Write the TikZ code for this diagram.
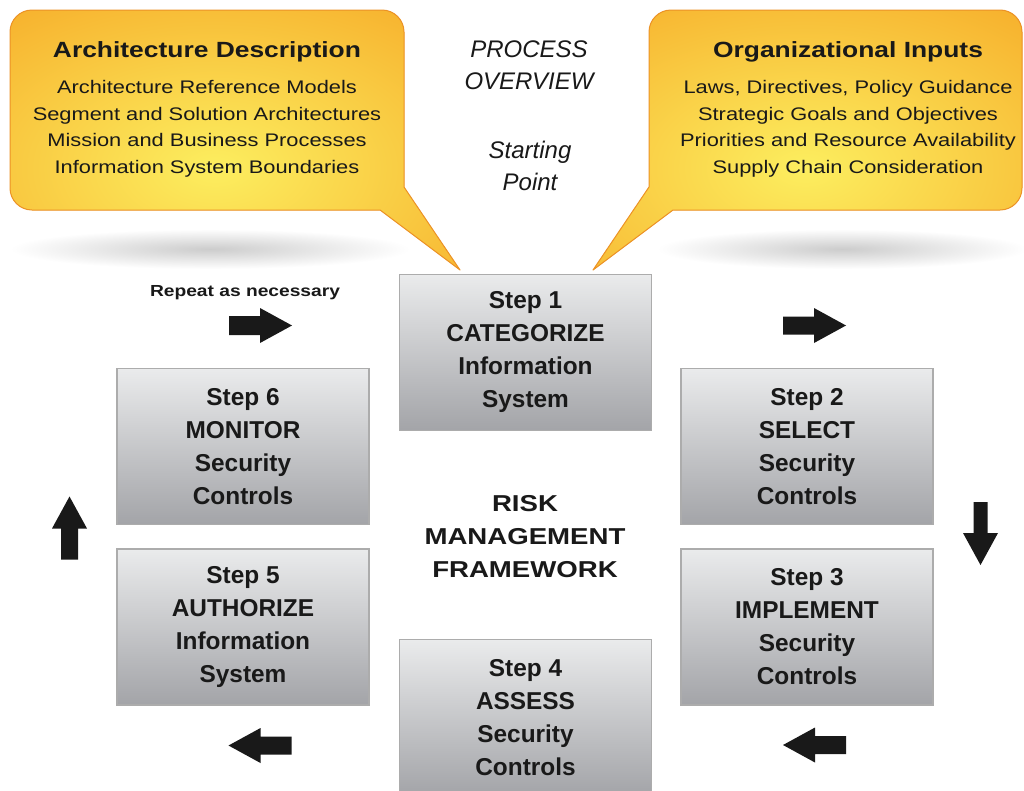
\documentclass[tikz,border=0pt]{standalone}
\usepackage{fontspec}
\setmainfont{Liberation Sans}
\newfontfamily\widesans[FakeStretch=1.2]{Liberation Sans}

\definecolor{ink}{RGB}{25,25,25}
\definecolor{boxtop}{RGB}{234,235,236}
\definecolor{boxbot}{RGB}{163,164,168}
\definecolor{boxline}{RGB}{172,172,172}
\definecolor{calledge}{RGB}{245,156,28}
\definecolor{callmid}{RGB}{252,238,95}
\definecolor{callline}{RGB}{236,146,38}

% outlines of the two speech bubbles (y grows downwards)
\newcommand\archbubble{(380,210) -- (460,270) -- (404,187) -- (404,32)
  .. controls (404,19.85) and (394.15,10) .. (382,10) -- (32,10)
  .. controls (19.85,10) and (10,19.85) .. (10,32) -- (10,188)
  .. controls (10,200.15) and (19.85,210) .. (32,210) -- cycle}
\newcommand\orgbubble{(673,210) -- (593,270) -- (649,187) -- (649,32)
  .. controls (649,19.85) and (658.85,10) .. (671,10) -- (1000,10)
  .. controls (1012.15,10) and (1022,19.85) .. (1022,32) -- (1022,188)
  .. controls (1022,200.15) and (1012.15,210) .. (1000,210) -- cycle}

\tikzset{
  heading/.style={font=\widesans\bfseries\fontsize{22}{26}\selectfont, text=ink},
  itemlines/.style={font=\widesans\fontsize{18.2}{26.5}\selectfont, align=center, text=ink},
  stepbox/.style={rectangle, draw=boxline, line width=1.2pt, top color=boxtop,
    bottom color=boxbot, minimum width=252pt, minimum height=156pt, inner sep=0pt,
    align=center, font=\bfseries\fontsize{24.4}{33}\selectfont, text=ink},
  overview/.style={font=\itshape\fontsize{24}{32}\selectfont, align=center, text=ink},
  rmf/.style={font=\widesans\bfseries\fontsize{23}{33}\selectfont, align=center, text=ink},
  repeatlbl/.style={font=\widesans\bfseries\fontsize{16}{18}\selectfont, text=ink},
  groundshadow/.style={inner color=black!20, outer color=white},
  pics/blockarrow/.style={code={
    \fill[ink] (-31,-#1) -- (0,-#1) -- (0,-17.5) -- (32,0) -- (0,17.5) -- (0,#1) -- (-31,#1) -- cycle;}}
}

\begin{document}
\begin{tikzpicture}[x=1pt,y=-1pt]
\fill[white] (0,0) rectangle (1024,790);
\useasboundingbox (0,0) rectangle (1024,790);

% soft shadows under the bubbles
\shade[groundshadow] (210,249) ellipse (200 and 20);
\shade[groundshadow] (842,249) ellipse (185 and 20);

% speech bubbles
\begin{scope}
  \clip \archbubble;
  \fill[calledge] (0,0) rectangle (470,280);
  \shade[inner color=callmid, outer color=calledge] (215,168) ellipse (460 and 270);
\end{scope}
\draw[callline, line width=1pt, line join=round] \archbubble;

\begin{scope}
  \clip \orgbubble;
  \fill[calledge] (580,0) rectangle (1024,280);
  \shade[inner color=callmid, outer color=calledge] (805,168) ellipse (460 and 270);
\end{scope}
\draw[callline, line width=1pt, line join=round] \orgbubble;

\node[heading] (archhead) at (207,52) {Architecture Description};
\node[itemlines] (archlist) at (207,129) {Architecture Reference Models\\Segment and Solution Architectures\\Mission and Business Processes\\Information System Boundaries};
\node[heading] (orghead) at (848,52) {Organizational Inputs};
\node[itemlines] (orglist) at (848,129) {Laws, Directives, Policy Guidance\\Strategic Goals and Objectives\\Priorities and Resource Availability\\Supply Chain Consideration};

\node[overview] (overview) at (529,65) {PROCESS\\OVERVIEW};
\node[overview] (start) at (530,166) {Starting\\Point};

% the six steps
\node[stepbox] (s1) at (525.5,352.5) {Step 1\\CATEGORIZE\\Information\\System};
\node[stepbox] (s2) at (807,446.5) {Step 2\\SELECT\\Security\\Controls};
\node[stepbox] (s3) at (807,627) {Step 3\\IMPLEMENT\\Security\\Controls};
\node[stepbox] (s4) at (525.5,717.5) {Step 4\\ASSESS\\Security\\Controls};
\node[stepbox] (s5) at (243,627) {Step 5\\AUTHORIZE\\Information\\System};
\node[stepbox] (s6) at (243,446.5) {Step 6\\MONITOR\\Security\\Controls};

\node[rmf] (rmf) at (525,537) {RISK\\MANAGEMENT\\FRAMEWORK};
\node[repeatlbl] (repeat) at (245,293) {Repeat as necessary};

% cycle arrows
\pic at (260,325.5) {blockarrow=9.5};
\pic at (814,325.5) {blockarrow=9};
\pic[rotate=-90] at (980.5,533) {blockarrow=7};
\pic[rotate=180] at (815,745) {blockarrow=9};
\pic[rotate=180] at (260.5,745.5) {blockarrow=9};
\pic[rotate=90] at (69.5,528.5) {blockarrow=8.5};
\end{tikzpicture}
\end{document}
